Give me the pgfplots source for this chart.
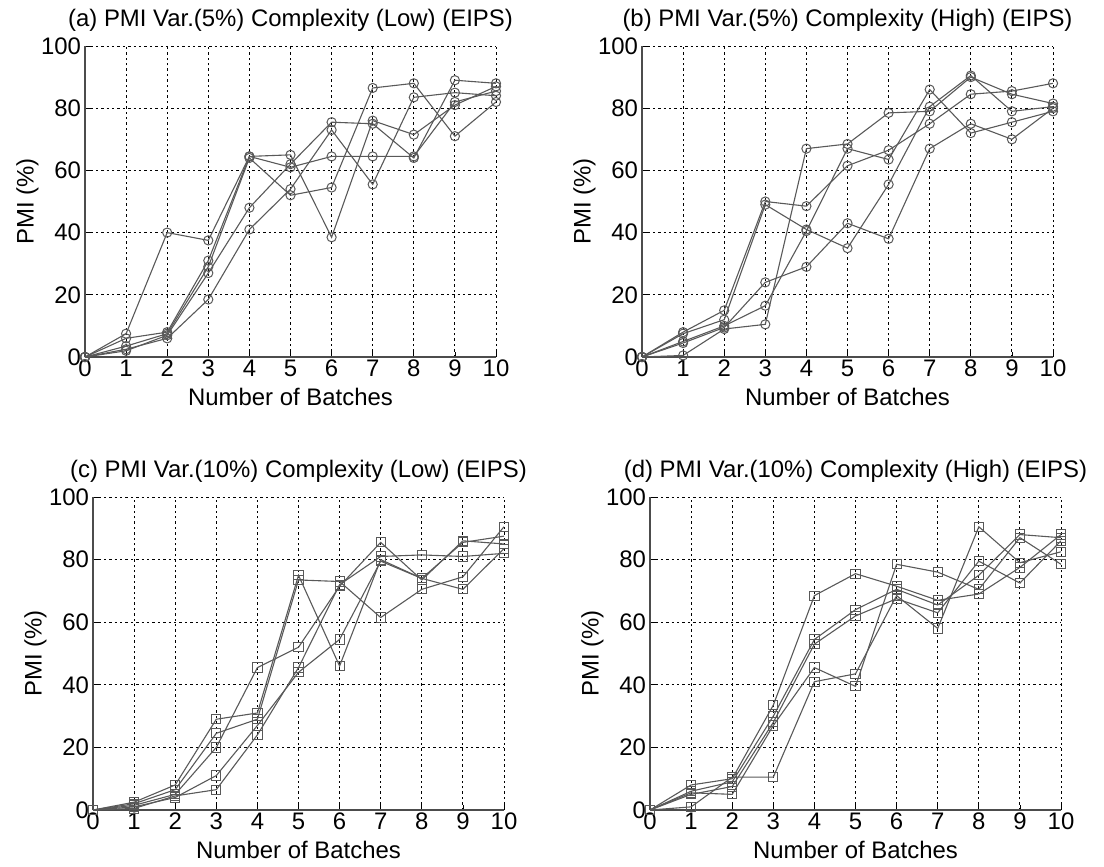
\documentclass[border=0pt]{standalone}
\usepackage{fontspec}
\setmainfont{Liberation Sans}
\usepackage{pgfplots}
\pgfplotsset{compat=1.18}
\definecolor{ln}{gray}{0.35}
\pgfplotsset{
 every axis title shift=0pt,
 panel/.style={
  scale only axis, width=205.5bp, height=155.5bp,
  xmin=0,xmax=10,ymin=0,ymax=100,
  xtick={0,...,10}, ytick={0,20,...,100},
  axis x line*=bottom, axis y line*=left,
  grid=major, grid style={black, line width=0.45bp, dash pattern=on 1.2bp off 1.5bp},
  tick align=inside, major tick length=2.5bp, tick style={black,line width=0.4bp},
  axis line style={black!70, line width=0.8bp, -},
  /pgf/number format/assume math mode=true,
  tick label style={font=\fontsize{12}{14}\selectfont},
  label style={font=\fontsize{12}{14}\selectfont},
  title style={font=\fontsize{12}{14}\selectfont, at={(0.5,1)}, anchor=base, yshift=9.7bp},
  xlabel={Number of Batches}, ylabel={PMI (\%)},
  xlabel style={at={(axis description cs:0.5,0)}, anchor=base, yshift=-24.3bp},
  ylabel style={at={(axis description cs:-0.125,0.5)}, anchor=base},
  xticklabel style={inner sep=1.2bp},
  yticklabel style={inner sep=1.8bp},
 },
 s/.style={color=ln, line width=0.55bp, mark=#1, mark size=2.3bp, mark options={solid, line width=0.5bp}},
}
\begin{document}
\begin{tikzpicture}
\useasboundingbox (0,0) rectangle (552bp,-433.5bp);
% (a)
\begin{axis}[panel, at={(42.5bp,-23bp)}, anchor=north west, title={(a) PMI Var.(5\%) Complexity (Low) (EIPS)}]
\addplot[s=o] coordinates {(0,0)(1,7.5)(2,40)(3,37.5)(4,64.5)(5,61)(6,64.5)(7,64.5)(8,64.5)(9,82)(10,85.5)};
\addplot[s=o] coordinates {(0,0)(1,6)(2,8)(3,31)(4,64.5)(5,65)(6,38.5)(7,76)(8,71.5)(9,81)(10,87)};
\addplot[s=o] coordinates {(0,0)(1,3.5)(2,7.5)(3,29)(4,64)(5,52)(6,54.5)(7,86.5)(8,88)(9,71)(10,82)};
\addplot[s=o] coordinates {(0,0)(1,2)(2,7)(3,27)(4,48)(5,62)(6,75.5)(7,75)(8,64)(9,89)(10,88)};
\addplot[s=o] coordinates {(0,0)(1,2.5)(2,6)(3,18.5)(4,41)(5,54)(6,73)(7,55.5)(8,83.5)(9,85)(10,84)};
\end{axis}
% (b)
\begin{axis}[panel, at={(321bp,-23bp)}, anchor=north west, title={(b) PMI Var.(5\%) Complexity (High) (EIPS)}]
\addplot[s=o] coordinates {(0,0)(1,8)(2,15)(3,50)(4,48.5)(5,61.5)(6,66.5)(7,75)(8,84.5)(9,85.5)(10,88)};
\addplot[s=o] coordinates {(0,0)(1,7.5)(2,12)(3,49)(4,41)(5,35)(6,55.5)(7,80.5)(8,90.5)(9,79)(10,80.5)};
\addplot[s=o] coordinates {(0,0)(1,0.5)(2,9)(3,10.5)(4,67)(5,68.5)(6,78.5)(7,79)(8,90)(9,84.5)(10,81.5)};
\addplot[s=o] coordinates {(0,0)(1,5)(2,10)(3,16.5)(4,40.5)(5,67)(6,63.5)(7,86)(8,72)(9,75.5)(10,79)};
\addplot[s=o] coordinates {(0,0)(1,4.5)(2,9.5)(3,24)(4,29)(5,43)(6,38)(7,67)(8,75)(9,70)(10,80)};
\end{axis}
% (c)
\begin{axis}[panel, height=156.5bp, at={(46.5bp,-248.5bp)}, anchor=north west, title={(c) PMI Var.(10\%) Complexity (Low) (EIPS)}]
\addplot[s=square] coordinates {(0,0)(1,2.5)(2,8)(3,29)(4,31)(5,75)(6,46)(7,80)(8,74)(9,85.5)(10,87.5)};
\addplot[s=square] coordinates {(0,0)(1,2)(2,6.5)(3,24.5)(4,29)(5,73.5)(6,73)(7,61.5)(8,70.5)(9,74.5)(10,90.5)};
\addplot[s=square] coordinates {(0,0)(1,1.5)(2,5)(3,20)(4,45.5)(5,52)(6,71.5)(7,85.5)(8,73.5)(9,86)(10,85)};
\addplot[s=square] coordinates {(0,0)(1,1)(2,4)(3,11)(4,27)(5,44)(6,54.5)(7,79.5)(8,74)(9,70.5)(10,83.5)};
\addplot[s=square] coordinates {(0,0)(1,0.5)(2,4.5)(3,6.5)(4,24)(5,45.5)(6,72)(7,81)(8,81.5)(9,81)(10,82)};
\end{axis}
% (d)
\begin{axis}[panel, height=156.5bp, at={(325bp,-248.5bp)}, anchor=north west, title={(d) PMI Var.(10\%) Complexity (High) (EIPS)}]
\addplot[s=square] coordinates {(0,0)(1,8)(2,10)(3,33.5)(4,68.5)(5,75.5)(6,71.5)(7,67)(8,69)(9,77.5)(10,88)};
\addplot[s=square] coordinates {(0,0)(1,6)(2,9)(3,30)(4,54.5)(5,64)(6,70.5)(7,65.5)(8,75)(9,88)(10,87)};
\addplot[s=square] coordinates {(0,0)(1,5)(2,7.5)(3,28)(4,53)(5,62)(6,67.5)(7,63)(8,79.5)(9,72.5)(10,86)};
\addplot[s=square] coordinates {(0,0)(1,1)(2,10.5)(3,10.5)(4,41)(5,43.5)(6,68.5)(7,58)(8,90.5)(9,79)(10,82.5)};
\addplot[s=square] coordinates {(0,0)(1,5.5)(2,5)(3,27)(4,45.5)(5,39.5)(6,78.5)(7,76)(8,70.5)(9,87)(10,78.5)};
\end{axis}
\end{tikzpicture}
\end{document}
